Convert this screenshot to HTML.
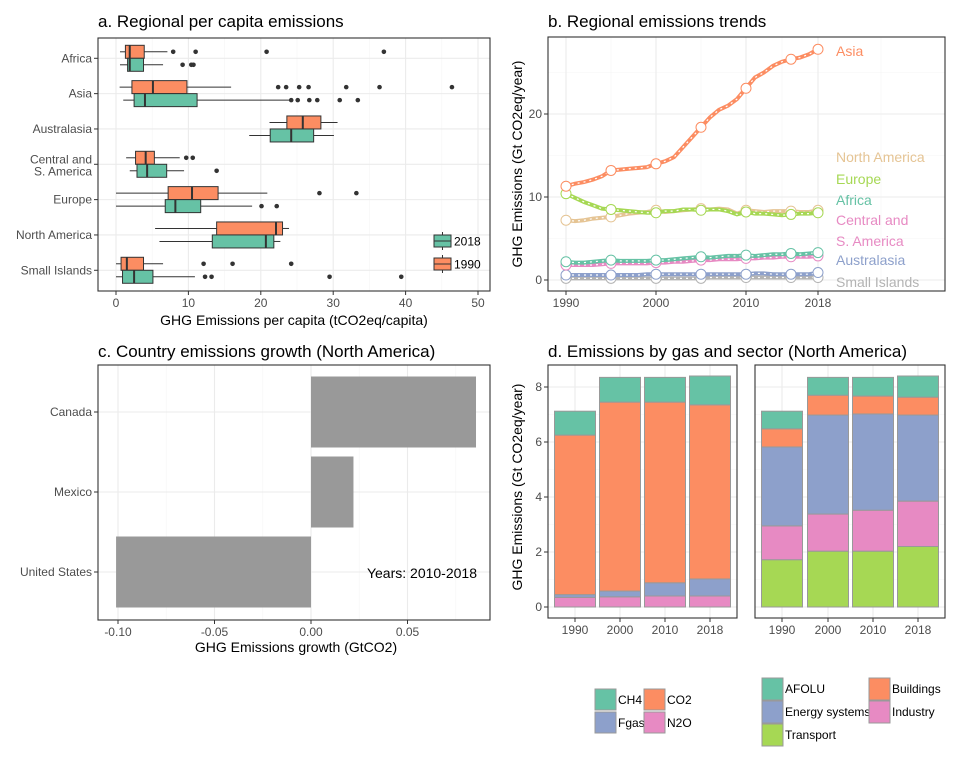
<!DOCTYPE html>
<html><head><meta charset="utf-8"><style>
body{margin:0;background:#fff;width:960px;height:768px;overflow:hidden}
svg{font-family:"Liberation Sans",Arial,sans-serif}
</style></head><body>
<svg id="c" width="960" height="768" viewBox="0 0 960 768" xmlns="http://www.w3.org/2000/svg"></svg>
<script>
// ---------- data: panel a ----------
const regionsA=["Africa","Asia","Australasia","Central and|S. America","Europe","North America","Small Islands"];
// [low, q1, median, q3, high]
const box1990=[[0.55,1.3,1.9,3.9,7.1],[0.5,2.2,5.1,9.8,15.9],[21.2,23.6,25.8,28.3,30.6],[1.4,2.7,4.1,5.3,8.8],[0,7.2,10.5,14.1,20.9],[5.4,13.9,22.1,23.0,23.9],[0,0.7,1.5,3.8,6.5]];
const box2018=[[0.55,1.6,1.9,3.8,6.5],[1.0,2.5,4.0,11.2,24.1],[18.4,21.3,24.2,27.3,30.1],[1.9,2.9,4.3,7.0,9.4],[0,6.8,8.2,11.7,18.8],[6.0,13.3,20.7,21.8,22.7],[0,0.9,2.5,5.1,10.9]];
const out1990=[[7.9,11.0,20.8,37.0],[22.4,23.5,25.3,26.6,31.8,36.4,46.4],[],[9.7,10.6],[28.1,33.2],[],[12.1,16.1,24.2]];
const out2018=[[9.2,10.4,10.7],[24.2,25.1,26.7,27.8,30.9,33.4],[],[13.9],[20.1,22.2],[],[12.3,13.2,29.5,39.4]];
const ticksA=[0,10,20,30,40,50];
// ---------- data: panel b ----------
const years=[1990,1991,1992,1993,1994,1995,1996,1997,1998,1999,2000,2001,2002,2003,2004,2005,2006,2007,2008,2009,2010,2011,2012,2013,2014,2015,2016,2017,2018];
const markerYears=[1990,1995,2000,2005,2010,2015,2018];
const seriesNames=["Small Islands","Australasia","Central and S. America","Africa","North America","Europe","Asia"];
const sSmall=[0.2,0.2,0.2,0.2,0.2,0.2,0.2,0.2,0.2,0.2,0.2,0.2,0.2,0.2,0.2,0.2,0.3,0.3,0.3,0.3,0.3,0.3,0.3,0.3,0.3,0.3,0.3,0.3,0.3];
const sAustral=[0.6,0.6,0.6,0.6,0.6,0.6,0.6,0.6,0.6,0.7,0.7,0.7,0.7,0.7,0.7,0.7,0.7,0.7,0.7,0.7,0.7,0.8,0.8,0.7,0.7,0.7,0.7,0.7,0.9];
const sCSA=[1.8,1.8,1.8,1.8,1.9,2.0,2.0,2.0,2.0,2.0,2.1,2.1,2.2,2.2,2.3,2.4,2.4,2.5,2.5,2.5,2.6,2.6,2.7,2.7,2.8,2.8,2.8,2.8,2.9];
const sAfrica=[2.2,2.1,2.1,2.2,2.3,2.4,2.3,2.3,2.3,2.3,2.4,2.4,2.5,2.6,2.7,2.8,2.7,2.8,2.9,2.9,3.0,2.9,3.0,3.1,3.1,3.2,3.1,3.2,3.3];
const sNA=[7.2,7.1,7.2,7.4,7.5,7.6,7.8,8.0,8.1,8.2,8.4,8.2,8.3,8.4,8.5,8.6,8.5,8.6,8.5,8.0,8.4,8.3,8.2,8.3,8.3,8.3,8.2,8.2,8.4];
const sEurope=[10.4,9.9,9.4,9.0,8.6,8.5,8.4,8.3,8.2,8.1,8.1,8.3,8.3,8.5,8.5,8.4,8.5,8.5,8.3,7.9,8.2,8.0,8.0,7.9,7.8,7.9,8.0,8.0,8.1];
const sAsia=[11.3,11.6,11.8,12.1,12.5,13.2,13.3,13.4,13.5,13.6,14.0,14.3,14.8,16.0,17.2,18.4,19.6,20.5,21.0,21.8,23.1,24.4,25.0,25.8,26.3,26.6,26.8,27.2,27.8];
const ticksBx=[1990,2000,2010,2018];
const ticksBy=[0,10,20];
// ---------- data: panel c ----------
const countries=["Canada","Mexico","United States"];
const growth=[0.0855,0.022,-0.101];
const ticksC=[-0.10,-0.05,0.00,0.05];
const ticksClabels=["-0.10","-0.05","0.00","0.05"];
// ---------- data: panel d ----------
const barYears=["1990","2000","2010","2018"];
const gN2O=[0.35,0.37,0.40,0.40];
const gFgas=[0.10,0.21,0.48,0.62];
const gCO2=[5.80,6.87,6.57,6.33];
const gCH4=[0.87,0.90,0.90,1.05];
const secTransport=[1.72,2.03,2.03,2.20];
const secIndustry=[1.23,1.35,1.49,1.65];
const secEnergy=[2.87,3.60,3.50,3.13];
const secBuildings=[0.66,0.72,0.65,0.65];
const secAFOLU=[0.64,0.65,0.68,0.77];
const ticksD=[0,2,4,6,8];

const C={teal:"#66c2a5",orange:"#fc8d62",blue:"#8da0cb",pink:"#e78ac3",green:"#a6d854",tan:"#e5c494",gray:"#b3b3b3"};
const svg=document.getElementById('c');
const NS="http://www.w3.org/2000/svg";
function el(tag,attrs,parent,txt){const e=document.createElementNS(NS,tag);for(const k in attrs)e.setAttribute(k,attrs[k]);if(txt!==undefined)e.textContent=txt;(parent||svg).appendChild(e);return e;}
function grp(name){const g=el('g',{});return g;}
function txt(g,x,y,s,opt){const t=el('text',Object.assign({x:x,y:y,'font-size':12,fill:'#4d4d4d'},opt||{}),g,s);return t;}

// ===== Panel a =====
(function(){
 const g=grp('panel-a-boxplot');
 const X0=98,X1=490,Y0=38,Y1=291;
 const xs=v=>116+v*7.24;
 const yc=i=>58.3+i*35.33;
 const t=txt(g,98,27,"a. Regional per capita emissions",{'font-size':17,fill:'#000'});
 for(let v=5;v<=55;v+=10){if(xs(v)<X1)el('line',{x1:xs(v),x2:xs(v),y1:Y0,y2:Y1,stroke:'#f5f5f5','stroke-width':0.6},g);}
 ticksA.forEach(v=>el('line',{x1:xs(v),x2:xs(v),y1:Y0,y2:Y1,stroke:'#ebebeb','stroke-width':1.1},g));
 regionsA.forEach((r,i)=>el('line',{x1:X0,x2:X1,y1:yc(i),y2:yc(i),stroke:'#ebebeb','stroke-width':1.1},g));
 function drawBox(b,cy,col,outs,nm){
  const bg=el('g',{},g);
  el('line',{x1:xs(b[0]),x2:xs(b[1]),y1:cy,y2:cy,stroke:'#333','stroke-width':1},bg);
  el('line',{x1:xs(b[3]),x2:xs(b[4]),y1:cy,y2:cy,stroke:'#333','stroke-width':1},bg);
  el('rect',{x:xs(b[1]),y:cy-6.5,width:xs(b[3])-xs(b[1]),height:13,fill:col,stroke:'#333','stroke-width':1},bg);
  el('line',{x1:xs(b[2]),x2:xs(b[2]),y1:cy-6.5,y2:cy+6.5,stroke:'#333','stroke-width':2},bg);
  outs.forEach(o=>el('circle',{cx:xs(o),cy:cy,r:2.3,fill:'#333'},bg));
 }
 regionsA.forEach((r,i)=>{
  drawBox(box1990[i],yc(i)-6.5,C.orange,out1990[i],'box-1990-'+i);
  drawBox(box2018[i],yc(i)+6.5,C.teal,out2018[i],'box-2018-'+i);
  const parts=r.split('|');
  if(parts.length==1)txt(g,92,yc(i)+4,parts[0],{'text-anchor':'end'});
  else{txt(g,92,yc(i)-1,parts[0],{'text-anchor':'end'});txt(g,92,yc(i)+11,parts[1],{'text-anchor':'end'});}
  el('line',{x1:94,x2:98,y1:yc(i),y2:yc(i),stroke:'#333'},g);
 });
 ticksA.forEach(v=>{el('line',{x1:xs(v),x2:xs(v),y1:Y1,y2:Y1+4,stroke:'#333'},g);txt(g,xs(v),Y1+16,String(v),{'text-anchor':'middle'});});
 el('rect',{x:X0,y:Y0,width:X1-X0,height:Y1-Y0,fill:'none',stroke:'#333','stroke-width':1.1},g);
 const xt=txt(g,294,325,"GHG Emissions per capita (tCO2eq/capita)",{'text-anchor':'middle','font-size':14,fill:'#000'});
 
 const lg=el('g',{},g);
 [[C.teal,'2018',241],[C.orange,'1990',264]].forEach(([c,l,y])=>{
  el('line',{x1:442.5,x2:442.5,y1:y-9,y2:y+9,stroke:'#333'},lg);
  el('rect',{x:434,y:y-6,width:17,height:12,fill:c,stroke:'#333'},lg);
  el('line',{x1:434,x2:451,y1:y,y2:y,stroke:'#333'},lg);
  txt(lg,454,y+4.5,l,{fill:'#000'});
 });
})();

// ===== Panel b =====
(function(){
 const g=grp('panel-b-line-chart');
 const X0=548,X1=945,Y0=37,Y1=291;
 const xs=v=>566+(v-1990)*9;
 const ys=v=>280-v*8.3;
 const t=txt(g,548,27,"b. Regional emissions trends",{'font-size':17,fill:'#000'});
 [1995,2005,2014,2025].forEach(v=>el('line',{x1:xs(v),x2:xs(v),y1:Y0,y2:Y1,stroke:'#f5f5f5','stroke-width':0.6},g));
 [5,15,25].forEach(v=>el('line',{x1:X0,x2:X1,y1:ys(v),y2:ys(v),stroke:'#f5f5f5','stroke-width':0.6},g));
 ticksBx.forEach(v=>el('line',{x1:xs(v),x2:xs(v),y1:Y0,y2:Y1,stroke:'#ebebeb','stroke-width':1.1},g));
 ticksBy.forEach(v=>el('line',{x1:X0,x2:X1,y1:ys(v),y2:ys(v),stroke:'#ebebeb','stroke-width':1.1},g));
 const series=[sSmall,sAustral,sCSA,sAfrica,sNA,sEurope,sAsia];
 const cols=[C.gray,C.blue,C.pink,C.teal,C.tan,C.green,C.orange];
 series.forEach((s,k)=>{
  const sg=el('g',{},g);
  const d=s.map((v,i)=>(i?'L':'M')+xs(years[i])+','+ys(v)).join('');
  el('path',{d:d,fill:'none',stroke:cols[k],'stroke-width':4},sg);
  el('path',{d:d,fill:'none',stroke:'#fff','stroke-width':1.2,'stroke-dasharray':'2,4'},sg);
  markerYears.forEach(y=>{const i=years.indexOf(y);el('circle',{cx:xs(y),cy:ys(s[i]),r:5,fill:'#fff',stroke:cols[k],'stroke-width':1},sg);});
 });
 const labs=[["Asia",51,C.orange],["North America",157,C.tan],["Europe",179,C.green],["Africa",200,C.teal],["Central and",220,C.pink],[" S. America",241,C.pink],["Australasia",260,C.blue],["Small Islands",282,C.gray]];
 labs.forEach(([l,y,c])=>txt(g,836,y+5,l,{fill:c,'font-size':14}));
 ticksBx.forEach(v=>{el('line',{x1:xs(v),x2:xs(v),y1:Y1,y2:Y1+4,stroke:'#333'},g);txt(g,xs(v),Y1+16,String(v),{'text-anchor':'middle'});});
 ticksBy.forEach(v=>{el('line',{x1:X0-4,x2:X0,y1:ys(v),y2:ys(v),stroke:'#333'},g);txt(g,X0-6,ys(v)+4,String(v),{'text-anchor':'end'});});
 el('rect',{x:X0,y:Y0,width:X1-X0,height:Y1-Y0,fill:'none',stroke:'#333','stroke-width':1.1},g);
 const yt=txt(g,0,0,"GHG Emissions (Gt CO2eq/year)",{'text-anchor':'middle','font-size':14,fill:'#000',transform:'translate(522,164) rotate(-90)'});
 
})();

// ===== Panel c =====
(function(){
 const g=grp('panel-c-bar-chart');
 const X0=98,X1=490,Y0=365,Y1=620;
 const xs=v=>311+v*1930;
 const yc=i=>412+i*80;
 const t=txt(g,98,357,"c. Country emissions growth (North America)",{'font-size':17,fill:'#000'});
 [-0.075,-0.025,0.025,0.075].forEach(v=>el('line',{x1:xs(v),x2:xs(v),y1:Y0,y2:Y1,stroke:'#f5f5f5','stroke-width':0.6},g));
 ticksC.forEach(v=>el('line',{x1:xs(v),x2:xs(v),y1:Y0,y2:Y1,stroke:'#ebebeb','stroke-width':1.1},g));
 countries.forEach((c,i)=>el('line',{x1:X0,x2:X1,y1:yc(i),y2:yc(i),stroke:'#ebebeb','stroke-width':1.1},g));
 countries.forEach((c,i)=>{
  const r=el('rect',{x:Math.min(xs(0),xs(growth[i])),y:yc(i)-35.5,width:Math.abs(xs(growth[i])-xs(0)),height:71,fill:'#999'},g);
  
  el('line',{x1:94,x2:98,y1:yc(i),y2:yc(i),stroke:'#333'},g);
  txt(g,92,yc(i)+4,c,{'text-anchor':'end'});
 });
 ticksC.forEach((v,i)=>{el('line',{x1:xs(v),x2:xs(v),y1:Y1,y2:Y1+4,stroke:'#333'},g);txt(g,xs(v),Y1+16,ticksClabels[i],{'text-anchor':'middle'});});
 txt(g,477,578,"Years: 2010-2018",{'text-anchor':'end','font-size':14,fill:'#000'});
 el('rect',{x:X0,y:Y0,width:X1-X0,height:Y1-Y0,fill:'none',stroke:'#333','stroke-width':1.1},g);
 const xt=txt(g,296,652,"GHG Emissions growth (GtCO2)",{'text-anchor':'middle','font-size':14,fill:'#000'});
 
})();

// ===== Panel d =====
(function(){
 const g=grp('panel-d-stacked-bars');
 const Y0=365,Y1=618;
 const ys=v=>607-v*27.5;
 const t=txt(g,548,357,"d. Emissions by gas and sector (North America)",{'font-size':17,fill:'#000'});
 function facet(X0,X1,cx,layers,cols,names,nm){
  const fg=el('g',{},g);
  [1,3,5,7].forEach(v=>el('line',{x1:X0,x2:X1,y1:ys(v),y2:ys(v),stroke:'#f5f5f5','stroke-width':0.6},fg));
  ticksD.forEach(v=>el('line',{x1:X0,x2:X1,y1:ys(v),y2:ys(v),stroke:'#ebebeb','stroke-width':1.1},fg));
  cx.forEach(x=>el('line',{x1:x,x2:x,y1:Y0,y2:Y1,stroke:'#ebebeb','stroke-width':1.1},fg));
  barYears.forEach((yr,i)=>{
   let base=0;
   layers.forEach((L,k)=>{
    const r=el('rect',{x:cx[i]-20.5,y:ys(base+L[i]),width:41,height:ys(base)-ys(base+L[i]),fill:cols[k],stroke:'#999','stroke-width':1},fg);
    
    base+=L[i];
   });
   el('line',{x1:cx[i],x2:cx[i],y1:Y1,y2:Y1+4,stroke:'#333'},fg);
   txt(fg,cx[i],Y1+16,yr,{'text-anchor':'middle'});
  });
  el('rect',{x:X0,y:Y0,width:X1-X0,height:Y1-Y0,fill:'none',stroke:'#333','stroke-width':1.1},fg);
 }
 facet(548,737,[575,620,665,710],[gN2O,gFgas,gCO2,gCH4],[C.pink,C.blue,C.orange,C.teal],['n2o','fgas','co2','ch4'],'facet-gas');
 facet(755,945,[782,828,873,918],[secTransport,secIndustry,secEnergy,secBuildings,secAFOLU],[C.green,C.pink,C.blue,C.orange,C.teal],['transport','industry','energy','buildings','afolu'],'facet-sector');
 ticksD.forEach(v=>{el('line',{x1:544,x2:548,y1:ys(v),y2:ys(v),stroke:'#333'},g);txt(g,542,ys(v)+4,String(v),{'text-anchor':'end'});});
 const yt=txt(g,0,0,"GHG Emissions (Gt CO2eq/year)",{'text-anchor':'middle','font-size':14,fill:'#000',transform:'translate(522,487) rotate(-90)'});
 
 const l1=el('g',{},g);
 [[595,689,C.teal,'CH4'],[644,689,C.orange,'CO2'],[595,712,C.blue,'Fgas'],[644,712,C.pink,'N2O']].forEach(([x,y,c,l])=>{
  el('rect',{x:x,y:y,width:21,height:21,fill:c,stroke:'#999'},l1);txt(l1,x+23,y+15,l,{fill:'#000'});});
 const l2=el('g',{},g);
 [[762,678,C.teal,'AFOLU'],[762,701,C.blue,'Energy systems'],[762,724,C.green,'Transport'],[869,678,C.orange,'Buildings'],[869,701,C.pink,'Industry']].forEach(([x,y,c,l])=>{
  el('rect',{x:x,y:y,width:21,height:22,fill:c,stroke:'#999'},l2);txt(l2,x+23,y+15,l,{fill:'#000'});});
})();
</script>
</body></html>
